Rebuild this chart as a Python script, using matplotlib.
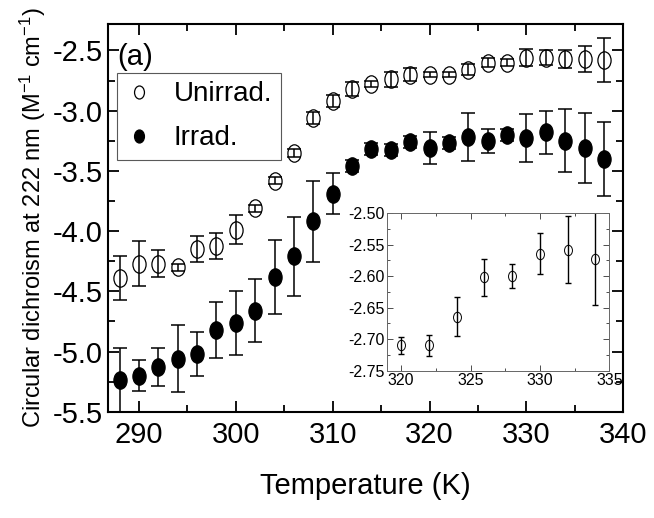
import matplotlib
matplotlib.use('Agg')
import matplotlib.pyplot as plt
from matplotlib.path import Path
from matplotlib.transforms import Affine2D
from matplotlib.ticker import MultipleLocator, FormatStrFormatter

plt.rcParams['font.family'] = ['Liberation Sans', 'DejaVu Sans']
plt.rcParams['mathtext.fontset'] = 'custom'
plt.rcParams['mathtext.rm'] = 'Liberation Sans'
plt.rcParams['mathtext.it'] = 'Liberation Sans:italic'
plt.rcParams['axes.unicode_minus'] = False

# CD signal at 222 nm vs temperature
temperature = list(range(288, 340, 2))
unirrad = [-4.39, -4.27, -4.27, -4.30, -4.15, -4.125, -3.99, -3.81, -3.58, -3.35,
           -3.06, -2.92, -2.82, -2.78, -2.74, -2.70, -2.70, -2.70, -2.66, -2.60,
           -2.60, -2.56, -2.56, -2.57, -2.57, -2.58]
unirrad_err = [0.18, 0.19, 0.11, 0.03, 0.11, 0.11, 0.12, 0.03, 0.03, 0.035,
               0.047, 0.05, 0.06, 0.025, 0.065, 0.055, 0.02, 0.02, 0.045, 0.04,
               0.03, 0.07, 0.06, 0.075, 0.11, 0.18]
irrad = [-5.24, -5.20, -5.13, -5.06, -5.02, -4.82, -4.76, -4.66, -4.38, -4.21,
         -3.92, -3.69, -3.46, -3.32, -3.33, -3.26, -3.31, -3.27, -3.22, -3.25,
         -3.20, -3.23, -3.18, -3.25, -3.31, -3.40]
irrad_err = [0.27, 0.13, 0.16, 0.28, 0.18, 0.23, 0.265, 0.26, 0.31, 0.33,
             0.34, 0.17, 0.05, 0.05, 0.05, 0.05, 0.13, 0.05, 0.2, 0.1,
             0.05, 0.2, 0.18, 0.26, 0.29, 0.31]

# zoom on the unirradiated plateau
inset_temp = [320, 322, 324, 326, 328, 330, 332, 334]
inset_cd = [-2.710, -2.710, -2.664, -2.602, -2.600, -2.564, -2.558, -2.572]
inset_err = [0.0135, 0.017, 0.031, 0.030, 0.019, 0.033, 0.053, 0.074]

# slightly tall ellipse marker
oval = Path.unit_circle().transformed(Affine2D().scale(0.76, 1.0))

fig = plt.figure(figsize=(6.54, 5.18), dpi=100)
ax = fig.add_axes([0.1651, 0.2052, 0.7879, 0.7485])

ax.errorbar(temperature, unirrad, yerr=unirrad_err, fmt='none', ecolor='k',
            elinewidth=1.1, capsize=5, capthick=1.1, zorder=2)
ax.errorbar(temperature, irrad, yerr=irrad_err, fmt='none', ecolor='k',
            elinewidth=1.1, capsize=5, capthick=1.1, zorder=2)
ax.plot(temperature, unirrad, ls='none', marker=oval, ms=12.5, mfc='none',
        mec='k', mew=0.9, label='Unirrad.', zorder=3)
ax.plot(temperature, irrad, ls='none', marker=oval, ms=12.5, mfc='k',
        mec='k', mew=0.9, label='Irrad.', zorder=3)

ax.set_xlim(286.8, 340)
ax.set_ylim(-5.5, -2.28)
ax.xaxis.set_major_locator(MultipleLocator(10))
ax.xaxis.set_minor_locator(MultipleLocator(5))
ax.yaxis.set_major_locator(MultipleLocator(0.5))
ax.yaxis.set_minor_locator(MultipleLocator(0.25))
ax.tick_params(which='both', direction='in', top=True, right=True, width=1.3,
               labelsize=21)
ax.tick_params(which='major', length=8)
ax.tick_params(which='minor', length=5)
ax.tick_params(axis='x', pad=7)
ax.tick_params(axis='y', pad=4)
for s in ax.spines.values():
    s.set_linewidth(1.5)

ax.set_xlabel('Temperature (K)', fontsize=21, labelpad=16)
ax.set_ylabel(r'Circular dichroism at 222 nm (M$^{-1}$ cm$^{-1}$)', fontsize=17,
              labelpad=3)
ax.text(0.0175, 0.916, '(a)', transform=ax.transAxes, fontsize=21,
        ha='left', va='center')

leg = ax.legend(loc='upper left', bbox_to_anchor=(0.0175, 0.8736), fontsize=20,
                markerscale=0.75, handlelength=1.0, handletextpad=0.75,
                borderpad=0.3, labelspacing=0.65, borderaxespad=0,
                fancybox=False, framealpha=1, edgecolor='0.35')
leg.get_frame().set_linewidth(0.8)

# inset
axi = fig.add_axes([0.5922, 0.2844, 0.3394, 0.3039])
axi.errorbar(inset_temp, inset_cd, yerr=inset_err, fmt='none', ecolor='k',
             elinewidth=1.0, capsize=2, capthick=1.0)
axi.plot(inset_temp, inset_cd, ls='none', marker=oval, ms=7.5, mfc='none',
         mec='k', mew=0.7)
axi.set_xlim(319, 335)
axi.set_ylim(-2.75, -2.50)
axi.xaxis.set_major_locator(MultipleLocator(5))
axi.xaxis.set_minor_locator(MultipleLocator(2.5))
axi.yaxis.set_major_locator(MultipleLocator(0.05))
axi.yaxis.set_minor_locator(MultipleLocator(0.025))
axi.yaxis.set_major_formatter(FormatStrFormatter('%.2f'))
axi.tick_params(which='both', direction='in', top=True, right=True, width=0.7,
                labelsize=11.5, pad=2, color='0.3')
axi.tick_params(which='major', length=4)
axi.tick_params(which='minor', length=2.5)
for s in axi.spines.values():
    s.set_linewidth(0.7)
    s.set_edgecolor('0.4')

fig.savefig('out.png', dpi=100)
